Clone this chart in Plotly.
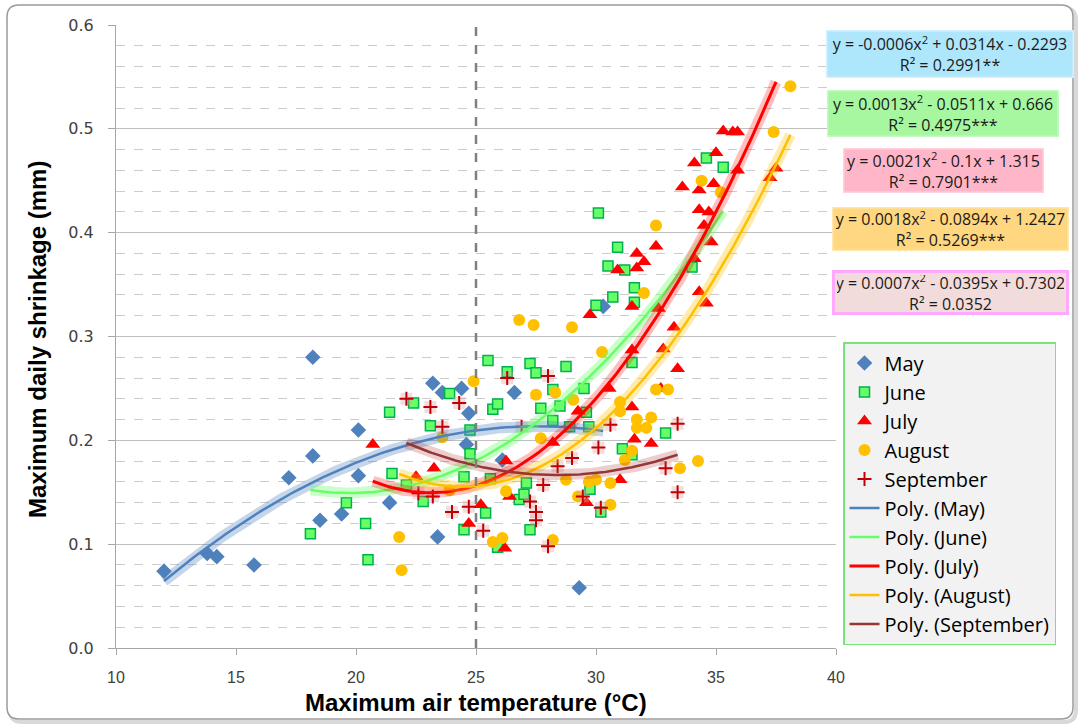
import numpy as np
import plotly.graph_objects as go

# ---------------- data ----------------
may_x = [12.0, 13.8, 14.2, 15.75, 17.2, 18.2, 18.2, 18.5, 19.4, 20.1, 20.1, 21.4,
         23.2, 23.4, 23.6, 24.4, 24.7, 24.6, 26.1, 26.6, 30.3, 29.3]
may_y = [0.074, 0.091, 0.088, 0.080, 0.164, 0.185, 0.280, 0.123, 0.129, 0.210, 0.166, 0.140,
         0.255, 0.107, 0.246, 0.250, 0.226, 0.196, 0.181, 0.246, 0.329, 0.058]

june_x = [18.1, 19.6, 20.4, 20.5, 21.4, 21.5, 22.1, 22.4, 22.8, 23.1, 23.9, 24.5, 24.5,
          24.75, 24.75, 25.4, 25.5, 25.6, 25.7, 25.9, 25.9, 26.3, 26.8, 27.0, 27.1, 27.25,
          27.25, 27.5, 27.7, 28.2, 28.2, 28.5, 28.75, 28.9, 29.5, 29.6, 29.7, 29.75, 30.0,
          30.1, 30.2, 30.5, 30.7, 30.9, 31.1, 31.2, 31.5, 31.5, 31.6, 31.6, 32.9, 34.0,
          34.6, 35.3]
june_y = [0.110, 0.140, 0.120, 0.085, 0.227, 0.168, 0.157, 0.236, 0.141, 0.214, 0.245, 0.165,
          0.114, 0.210, 0.187, 0.130, 0.277, 0.163, 0.230, 0.235, 0.097, 0.266, 0.143, 0.148,
          0.159, 0.274, 0.114, 0.265, 0.231, 0.249, 0.219, 0.233, 0.271, 0.213, 0.250, 0.227,
          0.213, 0.153, 0.330, 0.419, 0.131, 0.368, 0.338, 0.386, 0.192, 0.364, 0.275, 0.186,
          0.347, 0.333, 0.207, 0.367, 0.472, 0.463]

july_x = [20.7, 22.5, 23.25, 24.7, 25.2, 26.2, 26.25, 26.4, 28.2, 29.25, 29.6, 29.75, 30.55,
          30.9, 31.0, 31.5, 31.5, 31.5, 31.6, 31.7, 31.7, 32.0, 32.3, 32.5, 32.6, 32.7, 32.8,
          33.25, 33.4, 33.6, 34.1, 34.1, 34.3, 34.3, 34.3, 34.5, 34.6, 34.7, 34.8, 34.9, 35.0,
          35.3, 35.7, 35.9, 35.9, 37.25, 37.5]
july_y = [0.196, 0.165, 0.173, 0.120, 0.138, 0.096, 0.180, 0.146, 0.198, 0.228, 0.140, 0.321,
          0.250, 0.364, 0.162, 0.329, 0.287, 0.232, 0.201, 0.380, 0.366, 0.372, 0.197, 0.387,
          0.327, 0.250, 0.288, 0.309, 0.269, 0.444, 0.467, 0.375, 0.441, 0.422, 0.343, 0.407,
          0.332, 0.420, 0.391, 0.447, 0.477, 0.498, 0.497, 0.497, 0.460, 0.453, 0.462]

aug_x = [21.8, 21.9, 23.6, 23.9, 24.9, 25.7, 26.1, 26.25, 26.8, 27.4, 27.5, 27.7, 28.3, 28.2,
         28.75, 29.0, 29.05, 29.25, 29.7, 30.0, 30.25, 30.6, 30.6, 31.0, 31.0, 31.2, 31.5,
         31.7, 31.7, 32.0, 32.1, 32.3, 32.5, 32.5, 33.0, 33.5, 34.25, 34.4, 35.2, 37.4, 38.1]
aug_y = [0.107, 0.075, 0.203, 0.152, 0.257, 0.102, 0.106, 0.151, 0.316, 0.311, 0.244, 0.202,
         0.246, 0.104, 0.162, 0.309, 0.239, 0.146, 0.160, 0.162, 0.285, 0.159, 0.138, 0.237,
         0.228, 0.181, 0.190, 0.220, 0.212, 0.342, 0.212, 0.222, 0.407, 0.249, 0.249, 0.173,
         0.180, 0.450, 0.439, 0.497, 0.541]

sep_x = [22.1, 22.6, 23.1, 23.2, 23.6, 24.0, 24.3, 24.7, 25.3, 26.3, 26.9, 27.25, 27.5, 27.5,
         27.8, 28.0, 28.0, 28.4, 29.0, 29.45, 30.1, 30.2, 30.6, 32.9, 33.4, 33.4]
sep_y = [0.240, 0.149, 0.232, 0.146, 0.213, 0.131, 0.236, 0.136, 0.113, 0.260, 0.213, 0.141,
         0.131, 0.123, 0.157, 0.262, 0.098, 0.175, 0.183, 0.146, 0.193, 0.135, 0.215, 0.173,
         0.216, 0.150]

equations = [
    "y = -0.0006x<sup>2</sup> + 0.0314x - 0.2293<br>R² = 0.2991**",
    "y = 0.0013x<sup>2</sup> - 0.0511x + 0.666<br>R² = 0.4975***",
    "y = 0.0021x<sup>2</sup> - 0.1x + 1.315<br>R² = 0.7901***",
    "y = 0.0018x<sup>2</sup> - 0.0894x + 1.2427<br>R² = 0.5269***",
    "y = 0.0007x<sup>2</sup> - 0.0395x + 0.7302<br>R² = 0.0352",
]

x_ticks = [10, 15, 20, 25, 30, 35, 40]
y_ticks = [0.0, 0.1, 0.2, 0.3, 0.4, 0.5, 0.6]

# ---------------- figure ----------------
W, H = 1080, 728
L, R, T, B = 116, 244, 25, 80
PW, PH = W - L - R, H - T - B


def px_x(p):
    return (p - L) / PW


def px_y(p):
    return (H - B - p) / PH


fig = go.Figure()

series = [
    ("May", may_x, may_y, dict(symbol="diamond", size=12, color="#4f81bd")),
    ("June", june_x, june_y, dict(symbol="square", size=10, color="#66ff66",
                                  line=dict(color="#00b050", width=1.5))),
    ("July", july_x, july_y, dict(symbol="triangle-up", size=13, color="#ff0000")),
    ("August", aug_x, aug_y, dict(symbol="circle", size=12, color="#ffc000")),
]
for i, (name, xs, ys, mk) in enumerate(series):
    fig.add_trace(go.Scatter(x=xs, y=ys, mode="markers", name=name, marker=mk,
                             legendgroup=f"g{i}", legendrank=i + 1))

# September: pink square backdrop + red plus
fig.add_trace(go.Scatter(x=sep_x, y=sep_y, mode="markers", showlegend=False,
                         legendgroup="g4", hoverinfo="skip",
                         marker=dict(symbol="square", size=12, color="rgba(225,160,165,0.38)")))
fig.add_trace(go.Scatter(x=sep_x, y=sep_y, mode="markers", name="September",
                         legendgroup="g4", legendrank=5,
                         marker=dict(symbol="cross-thin", size=10, color="#c00000",
                                     line=dict(color="#c00000", width=2))))

trend = [
    ("Poly. (May)", may_x, may_y, "#4f81bd", "rgba(79,129,189,0.32)", 2.5),
    ("Poly. (June)", june_x, june_y, "#66ff66", "rgba(102,255,102,0.35)", 2.5),
    ("Poly. (July)", july_x, july_y, "#ff0000", "rgba(255,0,0,0.25)", 3),
    ("Poly. (August)", aug_x, aug_y, "#ffc000", "rgba(255,192,0,0.32)", 2.5),
    ("Poly. (September)", sep_x, sep_y, "#953735", "rgba(180,60,60,0.25)", 2.5),
]
for i, (name, xs, ys, col, glow, w) in enumerate(trend):
    c = np.polyfit(xs, ys, 2)
    xx = np.linspace(min(xs), max(xs), 150)
    yy = np.polyval(c, xx)
    fig.add_trace(go.Scatter(x=xx, y=yy, mode="lines", showlegend=False, hoverinfo="skip",
                             legendgroup=f"t{i}", line=dict(color=glow, width=11)))
    fig.add_trace(go.Scatter(x=xx, y=yy, mode="lines", name=name, legendgroup=f"t{i}",
                             legendrank=6 + i, line=dict(color=col, width=w)))

# equation boxes (center px, size px, fill, border)
boxes = [
    (950, 54, 248, 48, "#aee6fb", "#d2f1fc", 1.5),
    (943, 113.5, 232, 47, "#a6f7a0", "#c6f9c2", 1.5),
    (943.5, 170.5, 201, 45, "#ffb6c8", "#ffd2de", 1.5),
    (950, 229, 237, 44, "#ffd780", "#ffe6b0", 1.5),
    (950, 292, 237, 45, "#f2dcdb", "#ffa8ff", 3),
]
annotations = []
for (cx, cy, bw, bh, fill, border, bwid), txt in zip(boxes, equations):
    annotations.append(dict(
        x=px_x(cx), y=px_y(cy), xref="paper", yref="paper", xanchor="center", yanchor="middle",
        text=txt, showarrow=False, align="center",
        width=bw - 2 * bwid - 4, height=bh - 2 * bwid - 4, borderpad=2,
        bgcolor=fill, bordercolor=border, borderwidth=bwid,
        font=dict(family="Open Sans", size=16, color="#1a1a1a")))

annotations.append(dict(x=0.5, y=px_y(703), xref="paper", yref="paper",
                        text="<b>Maximum air temperature (°C)</b>", showarrow=False,
                        xanchor="center", yanchor="middle",
                        font=dict(family="Liberation Sans", size=24, color="#000000")))
annotations.append(dict(x=px_x(37), y=px_y(340), xref="paper", yref="paper",
                        text="<b>Maximum daily shrinkage (mm)</b>", showarrow=False,
                        textangle=-90, xanchor="center", yanchor="middle",
                        font=dict(family="Liberation Sans", size=24, color="#000000")))

# outer rounded frame
x0, x1 = px_x(7), px_x(1073)
y0, y1 = px_y(719), px_y(5)
rx, ry = 12 / PW, 12 / PH


def rounded(x0, y0, x1, y1):
    return (f"M {x0+rx},{y1} L {x1-rx},{y1} Q {x1},{y1} {x1},{y1-ry} "
            f"L {x1},{y0+ry} Q {x1},{y0} {x1-rx},{y0} L {x0+rx},{y0} "
            f"Q {x0},{y0} {x0},{y0+ry} L {x0},{y1-ry} Q {x0},{y1} {x0+rx},{y1} Z")


sx, sy = 3 / PW, 3 / PH
shapes = [
    dict(type="path", xref="paper", yref="paper", layer="below",
         path=rounded(x0 + sx, y0 - sy, x1 + sx, y1 - sy),
         line=dict(color="#d9d9d9", width=4)),
    dict(type="path", xref="paper", yref="paper", layer="below",
         path=rounded(x0, y0, x1, y1), fillcolor="white",
         line=dict(color="#9a9a9a", width=1.5)),
    dict(type="line", xref="x", yref="paper", x0=25, x1=25, y0=0, y1=1, layer="above",
         line=dict(color="#808080", width=2.5, dash="dash")),
]

fig.update_layout(
    width=W, height=H, autosize=False,
    margin=dict(l=L, r=R, t=T, b=B, pad=0),
    paper_bgcolor="white", plot_bgcolor="rgba(0,0,0,0)",
    showlegend=True,
    legend=dict(x=px_x(843), y=px_y(342), xanchor="left", yanchor="top",
                bgcolor="#f2f2f2", bordercolor="#7be37b", borderwidth=1.5,
                font=dict(family="Open Sans", size=20, color="#000000"),
                tracegroupgap=0, itemwidth=30),
    xaxis=dict(range=[10, 40], tickvals=x_ticks, ticktext=[str(v) for v in x_ticks],
               showgrid=False, zeroline=False, showline=True, linecolor="#a6a6a6",
               linewidth=1, ticks="outside", ticklen=6, tickcolor="#a6a6a6",
               ticklabelstandoff=9,
               tickfont=dict(family="Liberation Sans", size=16, color="#404040")),
    yaxis=dict(range=[0, 0.6], tickvals=y_ticks, ticktext=[f"{v:.1f}" for v in y_ticks],
               showgrid=True, gridcolor="#bfbfbf", gridwidth=1, zeroline=False,
               showline=True, linecolor="#a6a6a6", linewidth=1, ticks="outside",
               ticklen=7, tickcolor="#a6a6a6", ticklabelstandoff=11,
               minor=dict(dtick=0.02, tick0=0, showgrid=True, gridcolor="#cccccc",
                          griddash="dash", gridwidth=1),
               tickfont=dict(family="DejaVu Sans", size=16, color="#404040")),
    annotations=annotations,
    shapes=shapes,
)

fig.write_html("out.html")
